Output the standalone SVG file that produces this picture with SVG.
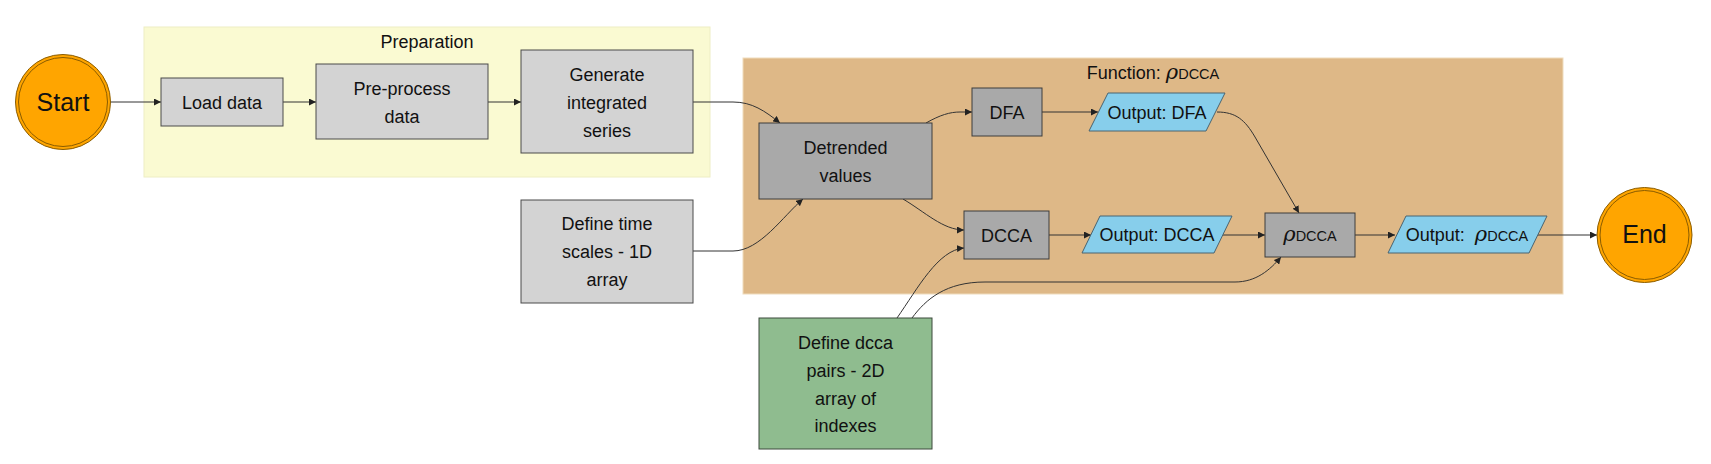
<svg xmlns="http://www.w3.org/2000/svg" width="1711" height="464" viewBox="0 0 1711 464">
<defs>
<style>
.lbl{font-family:"Liberation Sans",Arial,sans-serif;font-size:18px;fill:#111;text-anchor:middle}
.big{font-size:25px}
.rho{font-family:"DejaVu Serif","Liberation Serif",serif;font-style:italic;font-size:21px}
.sc{font-size:14.5px}
.lg{fill:#d3d3d3;stroke:#4a4a4a;stroke-width:1}
.dg{fill:#a9a9a9;stroke:#3c3c3c;stroke-width:1}
.out{fill:#87ceeb;stroke:#4a6470;stroke-width:1}
.grn{fill:#8fbc8f;stroke:#3c4a3c;stroke-width:1}
.term{fill:#ffa500;stroke:#8a5c00;stroke-width:1}
.edge{fill:none;stroke:#333;stroke-width:1;marker-end:url(#arr)}
</style>
<marker id="arr" viewBox="0 0 10 10" refX="10" refY="5" markerWidth="7" markerHeight="7" markerUnits="userSpaceOnUse" orient="auto">
<path d="M0,0 L10,5 L0,10 z" fill="#222"/>
</marker>
</defs>
<rect width="1711" height="464" fill="#fff"/>

<g id="cluster-preparation">
<rect x="144" y="27" width="566" height="150" fill="#fafad2" stroke="#eeeec4" stroke-width="1"/>
<text class="lbl" x="427" y="48">Preparation</text>
</g>
<g id="cluster-function">
<rect x="743" y="58" width="820" height="236" fill="#deb887" stroke="#efdcbc" stroke-width="1"/>
<text class="lbl" x="1153" y="79">Function: <tspan class="rho">ρ</tspan><tspan class="sc">DCCA</tspan></text>
</g>

<g id="connectors">
<path class="edge" d="M111,102 L161,102"/>
<path class="edge" d="M283,102 L316,102"/>
<path class="edge" d="M488,102 L521,102"/>
<path class="edge" d="M693,102 L733,102 C752,102 765,111 780,123"/>
<path class="edge" d="M693,251 L733,251 C760,251 783,216 803,199"/>
<path class="edge" d="M926,123 C940,115 950,112 960,112 L972,112"/>
<path class="edge" d="M1042,112 L1098,112"/>
<path class="edge" d="M903,199 C925,212 943,230 964,230"/>
<path class="edge" d="M897,318 C918,288 938,250 964,248"/>
<path class="edge" d="M1049,235 L1091,235"/>
<path class="edge" d="M912,318 C926,299 946,282 985,282 L1235,282 C1256,282 1270,270 1281,257"/>
<path class="edge" d="M1217,112 C1236,112 1245,120 1255,137 L1299,213"/>
<path class="edge" d="M1223,235 L1265,235"/>
<path class="edge" d="M1355,235 L1395,235"/>
<path class="edge" d="M1538,235 L1597,235"/>
</g>

<g id="start">
<circle class="term" cx="63" cy="102" r="47.5"/>
<circle class="term" cx="63" cy="102" r="44.5"/>
<text class="lbl big" x="63" y="111">Start</text>
</g>
<g id="load-data">
<rect class="lg" x="161" y="78" width="122" height="48"/>
<text class="lbl" x="222" y="109">Load data</text>
</g>
<g id="pre-process">
<rect class="lg" x="316" y="64" width="172" height="75"/>
<text class="lbl" x="402" y="95">Pre-process</text>
<text class="lbl" x="402" y="123">data</text>
</g>
<g id="generate">
<rect class="lg" x="521" y="50" width="172" height="103"/>
<text class="lbl" x="607" y="81">Generate</text>
<text class="lbl" x="607" y="109">integrated</text>
<text class="lbl" x="607" y="137">series</text>
</g>
<g id="time-scales">
<rect class="lg" x="521" y="200" width="172" height="103"/>
<text class="lbl" x="607" y="230">Define time</text>
<text class="lbl" x="607" y="258">scales - 1D</text>
<text class="lbl" x="607" y="286">array</text>
</g>
<g id="detrended">
<rect class="dg" x="759" y="123" width="173" height="76"/>
<text class="lbl" x="845.5" y="154">Detrended</text>
<text class="lbl" x="845.5" y="182">values</text>
</g>
<g id="dfa">
<rect class="dg" x="972" y="88" width="70" height="48"/>
<text class="lbl" x="1007" y="119">DFA</text>
</g>
<g id="dcca">
<rect class="dg" x="964" y="211" width="85" height="48"/>
<text class="lbl" x="1006.5" y="242">DCCA</text>
</g>
<g id="output-dfa">
<polygon class="out" points="1089,131 1206,131 1225,93 1108,93"/>
<text class="lbl" x="1157" y="119">Output: DFA</text>
</g>
<g id="output-dcca">
<polygon class="out" points="1082,253 1214,253 1232,216 1100,216"/>
<text class="lbl" x="1157" y="241">Output: DCCA</text>
</g>
<g id="rho-dcca">
<rect class="dg" x="1265" y="213" width="90" height="44"/>
<text class="lbl" x="1310" y="241"><tspan class="rho">ρ</tspan><tspan class="sc">DCCA</tspan></text>
</g>
<g id="output-rho">
<polygon class="out" points="1388,253 1529,253 1547,216 1406,216"/>
<text class="lbl" x="1467" y="241">Output: <tspan class="rho" dx="5">ρ</tspan><tspan class="sc">DCCA</tspan></text>
</g>
<g id="dcca-pairs">
<rect class="grn" x="759" y="318" width="173" height="131"/>
<text class="lbl" x="845.5" y="349">Define dcca</text>
<text class="lbl" x="845.5" y="377">pairs - 2D</text>
<text class="lbl" x="845.5" y="405">array of</text>
<text class="lbl" x="845.5" y="432">indexes</text>
</g>
<g id="end">
<circle class="term" cx="1644.5" cy="235" r="47.5"/>
<circle class="term" cx="1644.5" cy="235" r="44.5"/>
<text class="lbl big" x="1644.5" y="243">End</text>
</g>
</svg>
